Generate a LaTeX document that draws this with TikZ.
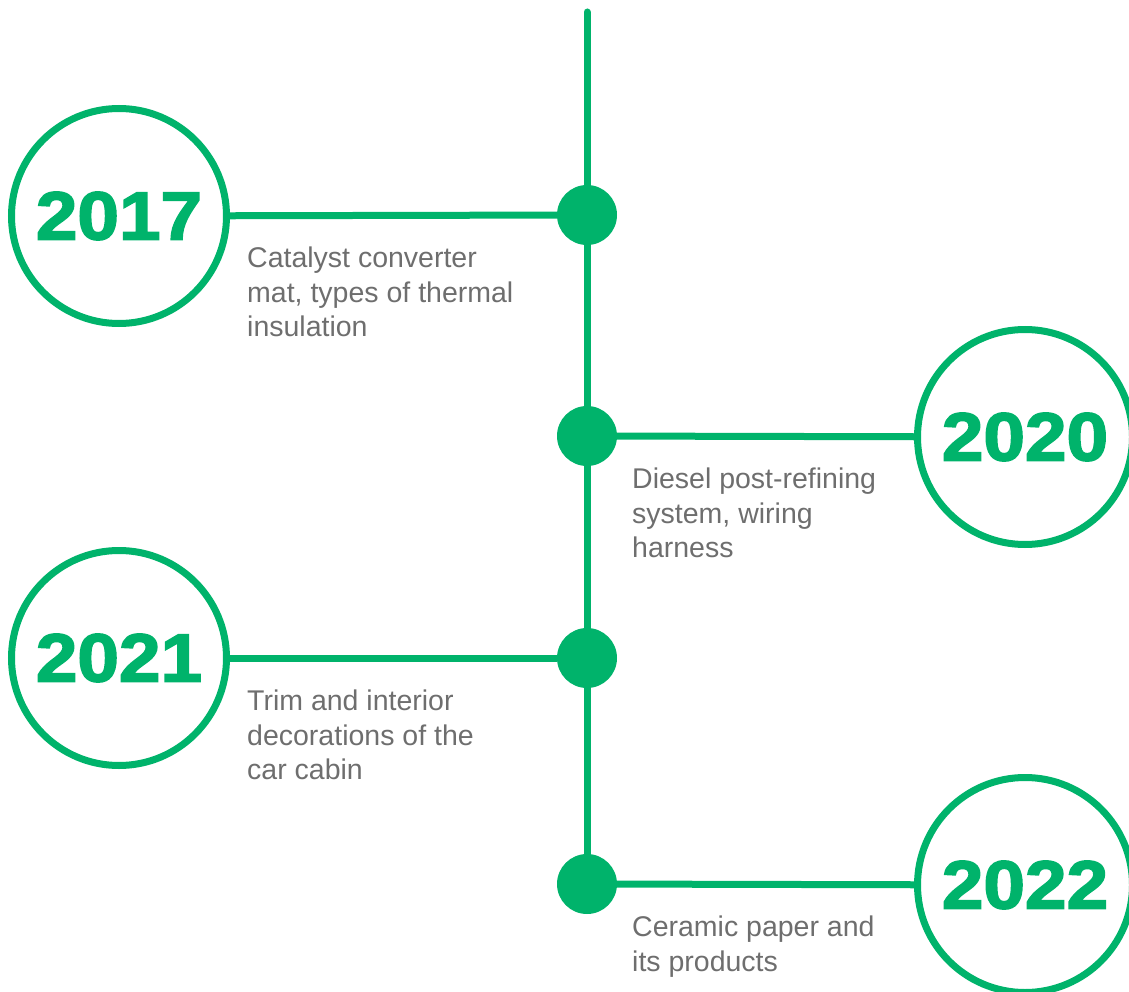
\documentclass[tikz,border=0pt]{standalone}
\usepackage{fontspec}
\setmainfont{Liberation Sans}
\newfontfamily\yearfont[FakeBold=2.5,FakeStretch=1.1]{Liberation Sans Bold}
\definecolor{tlgreen}{HTML}{00B36B}
\definecolor{tlgray}{HTML}{6E6E6E}
\begin{document}
\begin{tikzpicture}[x=1pt,y=-1pt,
    year/.style={circle,draw=tlgreen,line width=7pt,minimum size=215pt,inner sep=0pt,
      text=tlgreen,font=\yearfont\fontsize{68}{68}\selectfont},
    dot/.style={circle,fill=tlgreen,minimum size=60pt,inner sep=0pt},
    link/.style={draw=tlgreen,line width=7pt},
    note/.style={anchor=north west,inner sep=0pt,align=left,text=tlgray,
      font=\fontsize{28.5}{34.5}\selectfont}]
  \clip (0,0) rectangle (1129,992);
  \coordinate (top) at (587,12);
  \node[dot] (d1) at (587,215) {};
  \node[dot] (d2) at (587,436) {};
  \node[dot] (d3) at (587,658) {};
  \node[dot] (d4) at (587,884) {};
  \node[year] (y2017) at (119,216) {2017};
  \node[year] (y2020) at (1025,437) {2020};
  \node[year] (y2021) at (119,658) {2021};
  \node[year] (y2022) at (1025,885) {2022};
  \draw[link,line cap=round] (top) -- (d4);
  \draw[link] (y2017) -- (d1);
  \draw[link] (d2) -- (y2020);
  \draw[link] (y2021) -- (d3);
  \draw[link] (d4) -- (y2022);
  \node[note] (n2017) at (247,247) {Catalyst converter\\mat, types of thermal\\insulation};
  \node[note] (n2020) at (632,468) {Diesel post-refining\\system, wiring\\harness};
  \node[note] (n2021) at (247,690) {Trim and interior\\decorations of the\\car cabin};
  \node[note] (n2022) at (632,916) {Ceramic paper and\\its products};
\end{tikzpicture}
\end{document}
